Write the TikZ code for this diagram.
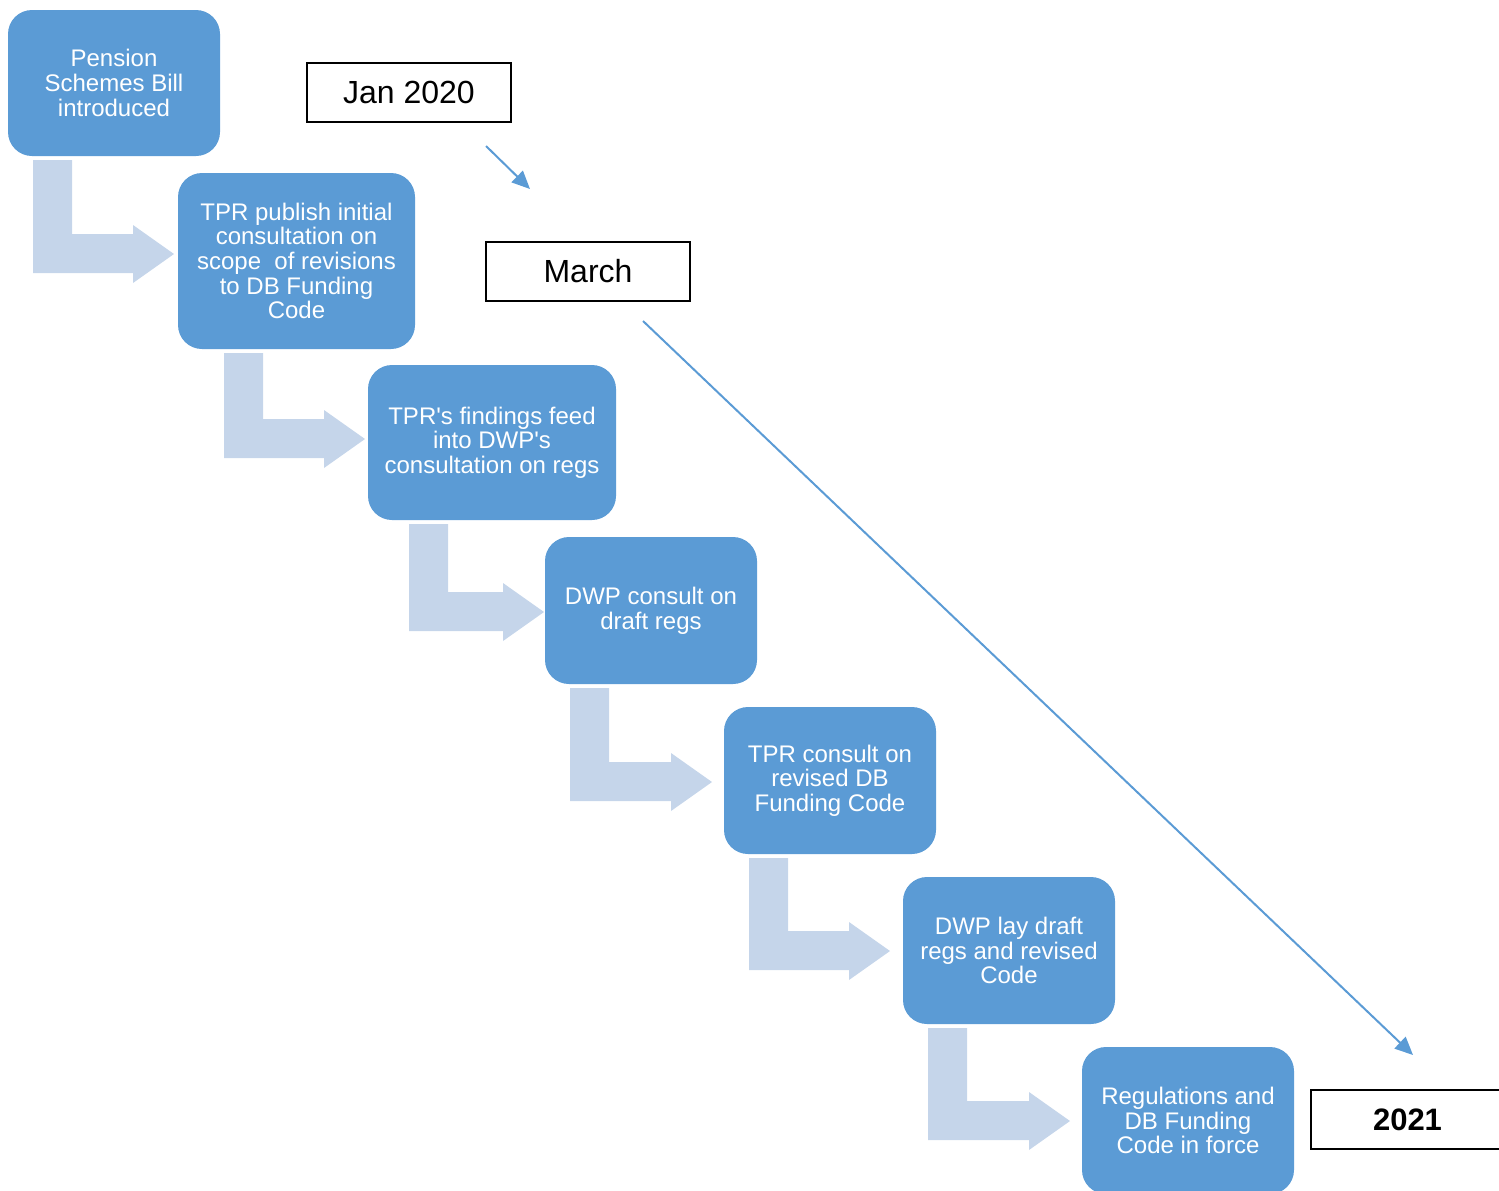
\documentclass[tikz,border=0pt]{standalone}
\usepackage{fontspec}
\setmainfont{Liberation Sans}
\usetikzlibrary{arrows.meta}
\definecolor{boxblue}{HTML}{5B9BD5}
\definecolor{bendblue}{HTML}{C5D5EA}
\begin{document}
\begin{tikzpicture}[x=0.5pt,y=-0.5pt,
  stepbox/.style={fill=boxblue,draw=none,rounded corners=12pt,text=white,align=center,inner sep=0pt,
    font=\fontsize{12pt}{12.3pt}\selectfont},
  datebox/.style={draw=black,line width=1pt,fill=white,inner sep=0pt,minimum height=29.5pt},
  lbendarrow/.style={fill=bendblue,draw=none},
  timeline/.style={draw=boxblue,line width=1pt,-{Triangle[length=9pt,width=8pt]}}]
\useasboundingbox (0,0) rectangle (1499,1190);
% bent arrows
\foreach \xa/\ya/\tx/\ty in {33/160/174/254, 224/353/365/439, 409/524/544/612, 570/688/712/782, 749/858/890/951, 928/1028/1070/1121}{
  \fill[lbendarrow] (\xa,\ya) -- ({\xa+39},\ya) -- ({\xa+39},{\ty-20}) -- ({\tx-41},{\ty-20}) -- ({\tx-41},{\ty-29})
    -- (\tx,\ty) -- ({\tx-41},{\ty+29}) -- ({\tx-41},{\ty+19}) -- (\xa,{\ty+19}) -- cycle;
}
% step boxes
\node[stepbox,minimum width=106pt,minimum height=73pt] (b1) at (114,83) {Pension\\Schemes Bill\\introduced};
\node[stepbox,minimum width=118.5pt,minimum height=88pt] (b2) at (296.5,261) {TPR publish initial\\consultation on\\scope\ \ of revisions\\to DB Funding\\Code};
\node[stepbox,minimum width=124pt,minimum height=77.5pt] (b3) at (492,442.5) {TPR\textquotesingle s findings feed\\into DWP\textquotesingle s\\consultation on regs};
\node[stepbox,minimum width=106pt,minimum height=73.5pt] (b4) at (651,610.5) {DWP consult on\\draft regs};
\node[stepbox,minimum width=106pt,minimum height=73.5pt] (b5) at (830,780.5) {TPR consult on\\revised DB\\Funding Code};
\node[stepbox,minimum width=106pt,minimum height=73.5pt] (b6) at (1009,950.5) {DWP lay draft\\regs and revised\\Code};
\node[stepbox,minimum width=106pt,minimum height=73.5pt] (b7) at (1188,1120.5) {Regulations and\\DB Funding\\Code in force};
% date boxes
\node[datebox,minimum width=102pt,font=\fontsize{16pt}{18pt}\selectfont] (jan) at (409,92.5) {Jan 2020};
\node[datebox,minimum width=102pt,font=\fontsize{16pt}{18pt}\selectfont] (mar) at (588,271) {March};
\node[datebox,minimum width=96.5pt,font=\fontsize{15.5pt}{18pt}\selectfont\bfseries] (y21) at (1407.5,1119.5) {2021};
% timeline arrows
\coordinate (t1s) at (486,146);
\coordinate (t1e) at (530,189);
\coordinate (t2s) at (643,321);
\coordinate (t2e) at (1413,1055);
\draw[timeline] (t1s) -- (t1e);
\draw[timeline] (t2s) -- (t2e);
\end{tikzpicture}
\end{document}
